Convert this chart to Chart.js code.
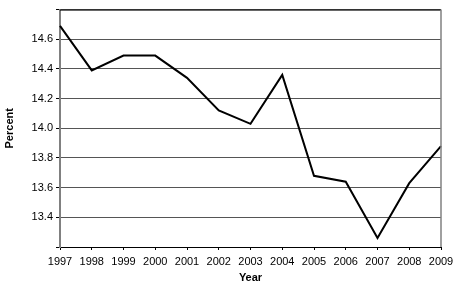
<!DOCTYPE html>
<html>
<head>
<meta charset="utf-8">
<script src="https://cdn.jsdelivr.net/npm/chart.js@4/dist/chart.umd.min.js"></script>
<style>
html,body{margin:0;padding:0;background:#fff;}
#wrap{width:472px;height:282px;}
</style>
</head>
<body>
<div id="wrap"><canvas id="c" width="472" height="282"></canvas></div>
<script>
const years = ['1997','1998','1999','2000','2001','2002','2003','2004','2005','2006','2007','2008','2009'];
const percent = [14.69, 14.39, 14.49, 14.49, 14.34, 14.12, 14.03, 14.36, 13.68, 13.64, 13.26, 13.63, 13.88];
const yMin = 13.2, yMax = 14.8, yStep = 0.2;

const frame = {
  id: 'frame',
  afterDraw(chart) {
    const a = chart.chartArea, ctx = chart.ctx;
    ctx.save();
    ctx.strokeStyle = '#000';
    ctx.lineWidth = 1;
    ctx.beginPath();
    ctx.moveTo(a.left, a.top + 0.5);
    ctx.lineTo(a.right, a.top + 0.5);
    ctx.stroke();
    ctx.strokeStyle = '#808080';
    ctx.lineWidth = 1.5;
    ctx.beginPath();
    ctx.moveTo(a.right, a.top);
    ctx.lineTo(a.right, a.bottom);
    ctx.stroke();
    ctx.restore();
  }
};

new Chart(document.getElementById('c'), {
  type: 'line',
  data: {
    labels: years,
    datasets: [{
      data: percent,
      borderColor: '#000',
      borderWidth: 2,
      pointRadius: 0,
      tension: 0,
      fill: false
    }]
  },
  options: {
    responsive: false,
    animation: false,
    devicePixelRatio: 1,
    layout: { padding: { top: 3, right: 31, left: 0, bottom: 0 } },
    plugins: { legend: { display: false }, tooltip: { enabled: false } },
    scales: {
      x: {
        type: 'category',
        offset: false,
        afterFit(s) { s.height = 35; },
        grid: { drawOnChartArea: false, drawTicks: true, tickLength: 3, color: '#000' },
        border: { color: '#000', width: 1 },
        ticks: { color: '#000', font: { family: 'Liberation Sans', size: 11 }, padding: 5, maxRotation: 0, autoSkip: false },
        title: { display: true, text: 'Year', color: '#000', font: { family: 'Liberation Sans', size: 11, weight: 'bold' }, padding: { top: 0, bottom: -3 } }
      },
      y: {
        min: yMin, max: yMax,
        afterFit(s) { s.width = 60; },
        grid: { color: '#555', lineWidth: 1, drawTicks: true, tickLength: 4, tickColor: '#000' },
        border: { color: '#808080', width: 2 },
        ticks: {
          stepSize: yStep, color: '#000', padding: 3,
          font: { family: 'Liberation Sans', size: 11 },
          callback(v) { const r = Math.round(v * 10) / 10; return (r <= yMin + 1e-6 || r >= yMax - 1e-6) ? '' : r.toFixed(1); }
        },
        title: { display: true, text: 'Percent', color: '#000', font: { family: 'Liberation Sans', size: 11, weight: 'bold' }, padding: { top: 3, bottom: 0 } }
      }
    }
  },
  plugins: [frame]
});
</script>
</body>
</html>
